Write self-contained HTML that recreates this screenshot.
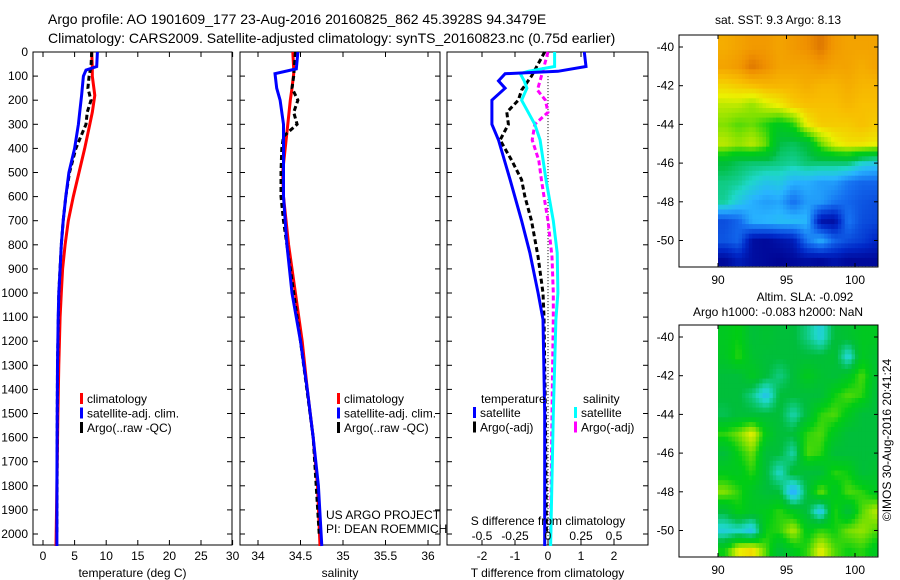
<!DOCTYPE html>
<html><head><meta charset="utf-8"><style>
body{margin:0;background:#fff;}
svg{display:block;font-family:"Liberation Sans",sans-serif;}
</style></head><body>
<svg id="fig" width="900" height="580" viewBox="0 0 900 580" xmlns="http://www.w3.org/2000/svg">
<text x="48" y="24" font-size="14">Argo profile: AO 1901609_177 23-Aug-2016 20160825_862 45.3928S 94.3479E</text>
<text x="48" y="43" font-size="14">Climatology: CARS2009. Satellite-adjusted climatology: synTS_20160823.nc (0.75d earlier)</text>
<text x="778" y="24" font-size="12" text-anchor="middle">sat. SST: 9.3 Argo: 8.13</text>
<text x="805" y="301" font-size="12" text-anchor="middle">Altim. SLA: -0.092</text>
<text x="778" y="316" font-size="12" text-anchor="middle">Argo h1000: -0.083 h2000: NaN</text>
<text transform="translate(891,440) rotate(-90)" font-size="12" text-anchor="middle">©IMOS 30-Aug-2016 20:41:24</text>
<g id="plots"></g>
</svg>
<script>
const depthTicks = [0,100,200,300,400,500,600,700,800,900,1000,1100,1200,1300,1400,1500,1600,1700,1800,1900,2000];
// temperature panel
const tDepth = [0,60,75,100,180,250,300,400,500,600,700,800,900,1000,1100,1300,1500,1800,2050];
const tClim  = [7.7,7.8,7.8,7.8,8.2,7.8,7.4,6.6,5.7,4.8,4.0,3.5,3.1,2.9,2.7,2.5,2.35,2.2,2.05];
const tSat   = [8.6,8.5,6.8,6.4,6.1,5.8,5.6,5.0,4.1,3.6,3.2,2.9,2.7,2.5,2.4,2.3,2.25,2.2,2.2];
const tArgoDepth = [0,60,100,150,200,250,300,350,400,500,600,700,800,1000,1300,1600,2000];
const tArgo  = [7.7,7.6,7.3,7.1,7.6,7.0,6.8,6.0,5.2,4.2,3.6,3.2,2.9,2.5,2.3,2.25,2.2];
const tTicks = [0,5,10,15,20,25,30];
// salinity panel
const sDepth = [0,70,90,150,200,300,400,500,600,800,1000,1200,1400,1600,1800,2050];
const sClim  = [34.41,34.42,34.42,34.40,34.38,34.35,34.32,34.29,34.30,34.36,34.44,34.52,34.58,34.65,34.70,34.73];
const sSat   = [34.47,34.45,34.20,34.22,34.26,34.30,34.30,34.30,34.30,34.34,34.40,34.50,34.58,34.65,34.71,34.75];
const sArgoDepth = [0,100,150,200,250,300,350,400,500,600,700,900,1200,1600,2000];
const sArgo  = [34.44,34.42,34.40,34.47,34.42,34.46,34.30,34.28,34.27,34.27,34.30,34.38,34.50,34.65,34.72];
const sTicks = [34,34.5,35,35.5,36];
// difference panel
const dDepth = [0,60,80,90,120,150,200,300,365,530,700,834,1000,1110,1500,2050];
const dTSat  = [1.1,1.15,0.3,-1.3,-1.5,-1.3,-1.7,-1.7,-1.5,-1.15,-0.8,-0.55,-0.3,-0.15,-0.1,-0.1];
const dSSat  = [0.05,0.05,-0.15,-0.21,-0.18,-0.16,-0.2,-0.1,-0.06,-0.015,0.04,0.07,0.075,0.06,0.04,0.02];
const dArgoDepth = [0,100,158,200,250,300,365,450,530,600,700,850,1000,1100,1500,2000];
const dTArgo = [-0.1,-0.5,-0.8,-0.9,-1.25,-1.2,-1.45,-1.1,-0.8,-0.7,-0.5,-0.3,-0.15,-0.12,-0.08,-0.05];
const dSArgo = [0,-0.05,-0.08,-0.02,0.0,-0.1,-0.12,-0.07,-0.05,-0.03,0.0,0.03,0.04,0.04,0.03,0.02];
const dTTicks = [-2,-1,0,1,2];
const dSTicks = [-0.5,-0.25,0,0.25,0.5];
// maps: rows centred at lat -40,-41,...,-51 ; cols centred at lon 90.5..101.5
const mapLats = [-40,-41,-42,-43,-44,-45,-46,-47,-48,-49,-50,-51];
const mapLons = [90.5,91.5,92.5,93.5,94.5,95.5,96.5,97.5,98.5,99.5,100.5,101.5];
const sstGrid = [
[10.9,11.0,11.1,11.1,11.0,11.1,11.2,11.4,11.1,11.0,11.0,11.0],
[11.0,11.1,11.4,11.2,11.0,11.0,11.0,11.1,11.0,11.0,10.9,11.0],
[10.5,10.6,10.7,10.8,10.8,10.8,10.9,10.8,10.8,10.9,10.8,10.8],
[10.0,10.0,9.8,10.1,10.3,10.6,10.7,10.7,10.7,10.8,10.7,10.7],
[9.7,9.5,9.6,9.3,9.0,9.3,10.3,10.6,10.6,10.6,10.7,10.6],
[10.0,9.8,10.0,9.6,8.5,8.4,8.6,9.6,10.2,10.4,10.4,10.3],
[8.6,8.4,8.3,8.3,8.2,8.1,8.3,8.3,8.3,8.3,7.8,7.6],
[8.2,8.1,7.8,7.5,7.6,7.2,7.2,7.0,7.0,6.6,6.4,6.4],
[8.1,7.6,7.2,7.0,7.1,6.5,7.0,7.0,6.6,6.4,6.2,6.1],
[6.1,6.4,7.2,7.3,7.4,7.4,7.3,5.2,5.1,6.6,6.1,6.0],
[6.2,6.4,5.1,5.0,5.2,5.4,6.6,7.2,6.4,6.1,5.9,5.6],
[5.0,5.4,5.1,5.0,4.9,5.0,5.1,5.0,5.2,5.0,5.0,5.0]];
const slaGrid = [
[0.05,0.08,0.0,0.02,0.0,0.0,-0.05,-0.12,0.0,0.02,0.05,0.05],
[0.04,0.1,0.02,0.0,0.0,0.0,0.0,0.0,0.02,-0.12,0.05,0.02],
[0.0,0.0,0.05,0.0,-0.05,0.0,0.06,0.02,0.0,0.04,0.12,0.02],
[0.0,0.0,-0.05,-0.15,0.0,0.0,0.0,0.0,0.08,0.12,0.1,0.0],
[-0.02,0.0,0.0,0.0,0.0,-0.08,0.0,0.1,0.12,0.06,0.0,0.0],
[0.1,0.14,0.22,0.06,0.0,0.0,0.1,0.12,0.05,0.0,0.0,0.0],
[0.0,0.08,0.14,0.0,0.0,-0.08,0.12,0.1,0.0,0.0,0.0,0.0],
[0.06,0.05,0.1,0.0,-0.1,0.02,0.0,0.0,0.1,0.08,0.0,0.02],
[0.15,0.1,0.04,0.0,0.0,-0.2,0.0,0.14,0.04,0.12,0.1,0.05],
[0.0,0.08,0.04,0.06,0.1,0.05,0.0,-0.15,0.1,0.0,0.12,0.18],
[-0.12,-0.1,-0.15,0.08,0.1,0.18,0.06,0.1,0.08,0.14,0.16,0.12],
[0.08,0.22,0.25,0.12,0.0,0.06,0.1,0.22,0.12,0.08,0.1,0.05]];

const NS='http://www.w3.org/2000/svg';
const root=document.getElementById('plots');
function mk(tag,attrs,parent){const e=document.createElementNS(NS,tag);for(const k in attrs)e.setAttribute(k,attrs[k]);(parent||root).appendChild(e);return e;}
function txt(s,x,y,anchor,size,parent){const e=mk('text',{x:x,y:y,'text-anchor':anchor||'start','font-size':size||12},parent);e.textContent=s;return e;}
const yD=d=>52+d*0.241;

function panel(name,x0,x1,xs,ticks,tickFmt,xlabel){
  const g=mk('g',{});
  
  
  const fr=mk('rect',{x:x0,y:52,width:x1-x0,height:493,fill:'none',stroke:'#000','stroke-width':1},g);
  
  
  depthTicks.forEach(d=>{const y=yD(d);mk('line',{x1:x0,x2:x0+5,y1:y,y2:y,stroke:'#000'},g);mk('line',{x1:x1,x2:x1-5,y1:y,y2:y,stroke:'#000'},g);});
  if(ticks){ticks.forEach(v=>{const x=xs(v);mk('line',{x1:x,x2:x,y1:545,y2:540,stroke:'#000'},g);mk('line',{x1:x,x2:x,y1:52,y2:57,stroke:'#000'},g);
    const t=txt(tickFmt(v),x,560,'middle',12,g);});}
  const xl=txt(xlabel,(x0+x1)/2,577,'middle',12,g);
  
  
  return g;
}
function line(g,xs,vals,depths,color,w,dash,name){
  const pts=vals.map((v,i)=>xs(v).toFixed(1)+','+yD(depths[i]).toFixed(1)).join(' ');
  const p=mk('polyline',{points:pts,fill:'none',stroke:color,'stroke-width':w,'stroke-dasharray':dash||'none'},g);
  
  
}
function legend(g,x,y,items){items.forEach((it,i)=>{mk('rect',{x:x,y:y+i*14.5-10,width:3,height:11,fill:it[1]},g);
  const t=txt(it[0],x+7,y+i*14.5,'start',12,g);});}

depthTicks.forEach(d=>{const t=txt(String(d),28,yD(d)+4,'end',12);});

const xT=v=>43+v*6.32;
const g1=panel('temperature-panel',33,232,xT,tTicks,String,'temperature (deg C)');
line(g1,xT,tClim,tDepth,'#f00',3,null,'temp-climatology-line');
line(g1,xT,tArgo,tArgoDepth,'#000',3,'5,3','temp-argo-line');
line(g1,xT,tSat,tDepth,'#0000ff',3,null,'temp-satellite-line');
legend(g1,80,403,[['climatology','#f00'],['satellite-adj. clim.','#00f'],['Argo(..raw -QC)','#000']]);

const xS=v=>258+(v-34)*85;
const g2=panel('salinity-panel',240,440,xS,sTicks,String,'salinity');
line(g2,xS,sClim,sDepth,'#f00',3,null,'sal-climatology-line');
line(g2,xS,sArgo,sArgoDepth,'#000',3,'5,3','sal-argo-line');
line(g2,xS,sSat,sDepth,'#0000ff',3,null,'sal-satellite-line');
legend(g2,337,403,[['climatology','#f00'],['satellite-adj. clim.','#00f'],['Argo(..raw -QC)','#000']]);
txt('US ARGO PROJECT',326,519,'start',12,g2);
txt('PI: DEAN ROEMMICH',326,533,'start',12,g2);

const xDT=v=>548+v*33;
const xDS=v=>548+v*132;
const g3=panel('difference-panel',447,648,xDT,dTTicks,String,'T difference from climatology');
mk('line',{x1:548,x2:548,y1:yD(100),y2:545,stroke:'#000','stroke-width':1,'stroke-dasharray':'1,2'},g3);
line(g3,xDS,dSArgo,dArgoDepth,'#ff00ff',3,'5,3','sal-diff-argo-line');
line(g3,xDT,dTArgo,dArgoDepth,'#000',3,'5,3','temp-diff-argo-line');
line(g3,xDS,dSSat,dDepth,'#00ffff',3,null,'sal-diff-satellite-line');
line(g3,xDT,dTSat,dDepth,'#0000ff',3,null,'temp-diff-satellite-line');
dSTicks.forEach(v=>{const t=txt(String(v),xDS(v),540,'middle',12,g3);});
txt('S difference from climatology',548,525,'middle',12,g3);
txt('temperature',481,403,'start',12,g3);
txt('salinity',583,403,'start',12,g3);
legend(g3,473,417,[['satellite','#00f'],['Argo(-adj)','#000']]);
legend(g3,574,417,[['satellite','#0ff'],['Argo(-adj)','#f0f']]);

const stops=[[0,[0,0,140]],[0.12,[0,40,200]],[0.25,[20,110,240]],[0.36,[40,180,255]],[0.45,[30,215,200]],[0.55,[0,190,60]],[0.64,[0,205,20]],[0.72,[130,225,0]],[0.8,[235,240,0]],[0.87,[248,190,0]],[0.94,[240,145,0]],[1,[205,95,0]]];
function cmap(t){t=Math.max(0,Math.min(1,t));for(let i=1;i<stops.length;i++){if(t<=stops[i][0]){const a=stops[i-1],b=stops[i],f=(t-a[0])/(b[0]-a[0]);return 'rgb('+a[1].map((c,k)=>Math.round(c+(b[1][k]-c)*f)).join(',')+')';}}return 'rgb(205,95,0)';}
function sample(grid,lat,lon){
  let r=(mapLats[0]-lat);r=Math.max(0,Math.min(mapLats.length-1.001,r));
  let c=(lon-mapLons[0]);c=Math.max(0,Math.min(mapLons.length-1.001,c));
  const i=Math.floor(r),j=Math.floor(c),fr=r-i,fc=c-j;
  return grid[i][j]*(1-fr)*(1-fc)+grid[i+1][j]*fr*(1-fc)+grid[i][j+1]*(1-fr)*fc+grid[i+1][j+1]*fr*fc;
}
function map(name,top,grid,vmin,vmax){
  const g=mk('g',{});
  
  
  const x0=679,x1=878,y1=top+232;
  const lx=v=>718+(v-90)*13.7;
  const ly=v=>top+12+(-40-v)*19.35;
  const step=0.25;
  for(let la=-39.4;la>-51.3;la-=step){
    for(let lo=90;lo<101.6;lo+=step){
      const v=sample(grid,la-step/2,lo+step/2);
      const xa=lx(lo),xb=Math.min(lx(lo+step),x1-1);
      const ya=ly(la),yb=Math.min(ly(la-step),ly(-51.3));
      if(xb<=xa||yb<=ya)continue;
      const c=mk('rect',{x:xa.toFixed(1),y:ya.toFixed(1),width:(xb-xa+0.6).toFixed(1),height:(yb-ya+0.6).toFixed(1),fill:cmap((v-vmin)/(vmax-vmin))},g);
      
      
    }
  }
  mk('rect',{x:x0,y:top,width:x1-x0,height:232,fill:'none',stroke:'#000'},g);
  [90,95,100].forEach(v=>{const x=lx(v);mk('line',{x1:x,x2:x,y1:y1,y2:y1-4,stroke:'#000'},g);mk('line',{x1:x,x2:x,y1:top,y2:top+4,stroke:'#000'},g);
    const t=txt(String(v),x,y1+17,'middle',12,g);});
  [-40,-42,-44,-46,-48,-50].forEach(v=>{const y=ly(v);mk('line',{x1:x0,x2:x0+4,y1:y,y2:y,stroke:'#000'},g);mk('line',{x1:x1,x2:x1-4,y1:y,y2:y,stroke:'#000'},g);
    const t=txt(String(v),674,y+4,'end',12,g);});
}
map('sst-map',35,sstGrid,4.8,11.6);
map('sla-map',325,slaGrid,-0.5,0.4);
</script>
</body></html>
